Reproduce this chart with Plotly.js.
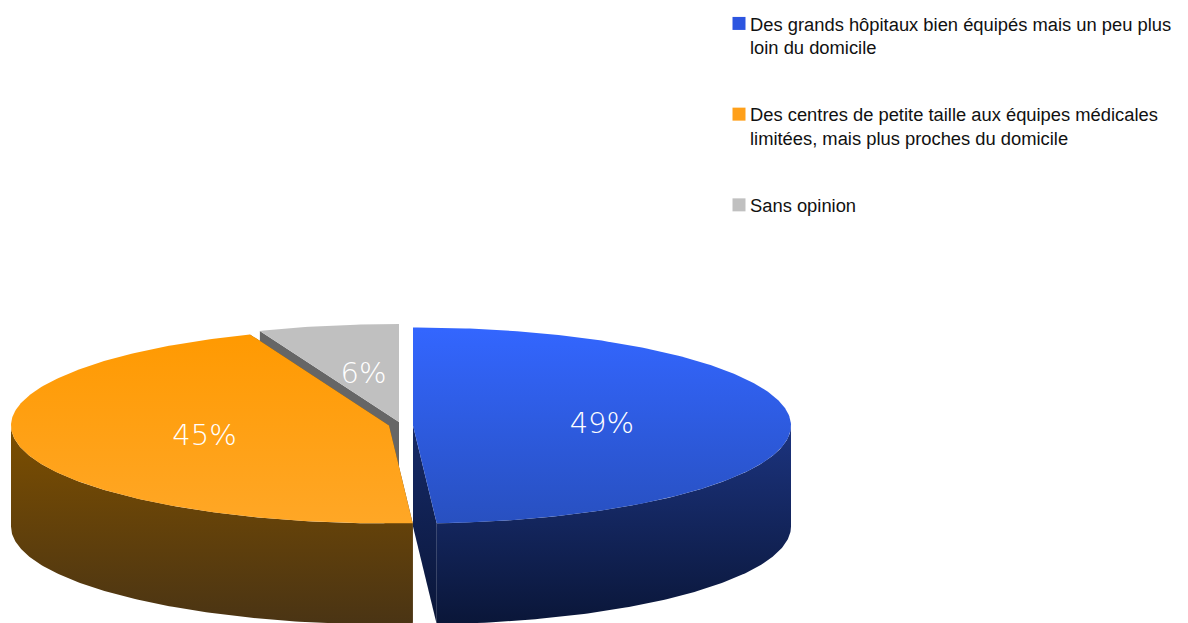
<!DOCTYPE html>
<html><head><meta charset="utf-8">
<script src="https://cdn.plot.ly/plotly-3.0.1.min.js"></script>
<style>html,body{margin:0;padding:0;background:#fff}#c{width:1188px;height:623px}</style>
</head><body><div id="c"></div>
<script>
const categories = [
  "Des grands hôpitaux bien équipés mais un peu plus<br>loin du domicile",
  "Des centres de petite taille aux équipes médicales<br>limitées, mais plus proches du domicile",
  "Sans opinion"
];
const values = [49, 45, 6];
const topColors = [["#3366ff", "#2850c0"], ["#ff9900", "#ffa726"], ["#c0c0c0", "#c0c0c0"]];
const wallColors = [["#1c3480", "#0a1638"], ["#7d4f00", "#4a3414"], ["#666666", "#666666"]];
const swatchColors = ["#2c55e0", "#ffa01a", "#c0c0c0"];

// Projection of the tilted pie
const RX = 378, RY = 98, DEPTH = 101;
const centers = [[413, 425.5], [389, 425.5], [399, 422]];

const total = values.reduce((a, b) => a + b, 0);
let acc = 0;
const slices = values.map((v, i) => {
  const start = acc / total * 360; acc += v;
  return {i, start, end: acc / total * 360, c: centers[i]};
});
const rad = d => d * Math.PI / 180;
const px = (s, a, f = 1) => s.c[0] + f * RX * Math.sin(rad(a));
const py = (s, a, f = 1) => s.c[1] - f * RY * Math.cos(rad(a));
function arc(s, a0, a1) {
  const pts = [], n = Math.max(2, Math.ceil(Math.abs(a1 - a0) * 1.5));
  for (let k = 0; k <= n; k++) pts.push(a0 + (a1 - a0) * k / n);
  return pts;
}
function area(x, y, cols, y0, y1) {
  return {type: "scatter", mode: "lines", x, y, fill: "toself", line: {width: 0},
    fillgradient: {type: "vertical", start: y0, stop: y1, colorscale: [[0, cols[0]], [1, cols[1]]]},
    hoverinfo: "skip", showlegend: false};
}
const traces = [];
// back to front: grey, orange, blue
slices.slice().reverse().forEach(s => {
  const cx = s.c[0], cy = s.c[1], w = wallColors[s.i], t = topColors[s.i];
  // side faces along the two radii
  [s.start, s.end].forEach(a => {
    traces.push(area([cx, px(s, a), px(s, a), cx], [cy, py(s, a), py(s, a) + DEPTH, cy + DEPTH], w, cy - RY, cy + RY + DEPTH));
  });
  // outer wall, only the part facing the viewer
  const a0 = Math.max(s.start, 90), a1 = Math.min(s.end, 270);
  if (a1 > a0) {
    const as = arc(s, a0, a1);
    const xs = as.map(a => px(s, a)), ys = as.map(a => py(s, a));
    traces.push(area(xs.concat(xs.slice().reverse()),
      ys.concat(ys.slice().reverse().map(y => y + DEPTH)), w, cy, cy + RY + DEPTH));
  }
  // top face
  const as = arc(s, s.start, s.end);
  traces.push(area([cx].concat(as.map(a => px(s, a))), [cy].concat(as.map(a => py(s, a))), t, cy - RY, cy + RY));
});
// percentage labels
traces.push({type: "scatter", mode: "text", hoverinfo: "skip", showlegend: false,
  x: slices.map(s => px(s, (s.start + s.end) / 2, 0.5)),
  y: slices.map(s => py(s, (s.start + s.end) / 2, 0.5) + 1.5),
  text: values.map(v => v + "%"), textposition: "middle center",
  textfont: {family: "DejaVu Sans", size: 29, weight: 200, color: "#ffffff"}});
// legend entries
categories.forEach((c, i) => traces.push({type: "scatter", mode: "markers", x: [null], y: [null],
  name: c, legendgroup: "g" + i,
  marker: {symbol: "square", size: 13, color: swatchColors[i]}}));

const layout = {
  width: 1188, height: 623, margin: {l: 0, r: 0, t: 0, b: 0},
  paper_bgcolor: "#fff", plot_bgcolor: "#fff",
  xaxis: {range: [0, 1188], visible: false, fixedrange: true},
  yaxis: {range: [623, 0], visible: false, fixedrange: true},
  showlegend: true,
  legend: {x: 710 / 1188, y: 1 - 5 / 623, xanchor: "left", yanchor: "top",
    font: {family: "Liberation Sans, Arial, sans-serif", size: 18.35, color: "#111"},
    valign: "top", tracegroupgap: 40, bgcolor: "rgba(0,0,0,0)", borderwidth: 0, itemclick: false, itemdoubleclick: false}
};
Plotly.newPlot("c", traces, layout, {displayModeBar: false, staticPlot: true}).then(() => {
  document.querySelectorAll("#c .legendpoints .scatterpts").forEach(n => {
    n.parentNode.setAttribute("transform", "translate(9,0)");
  });
});
</script></body></html>
